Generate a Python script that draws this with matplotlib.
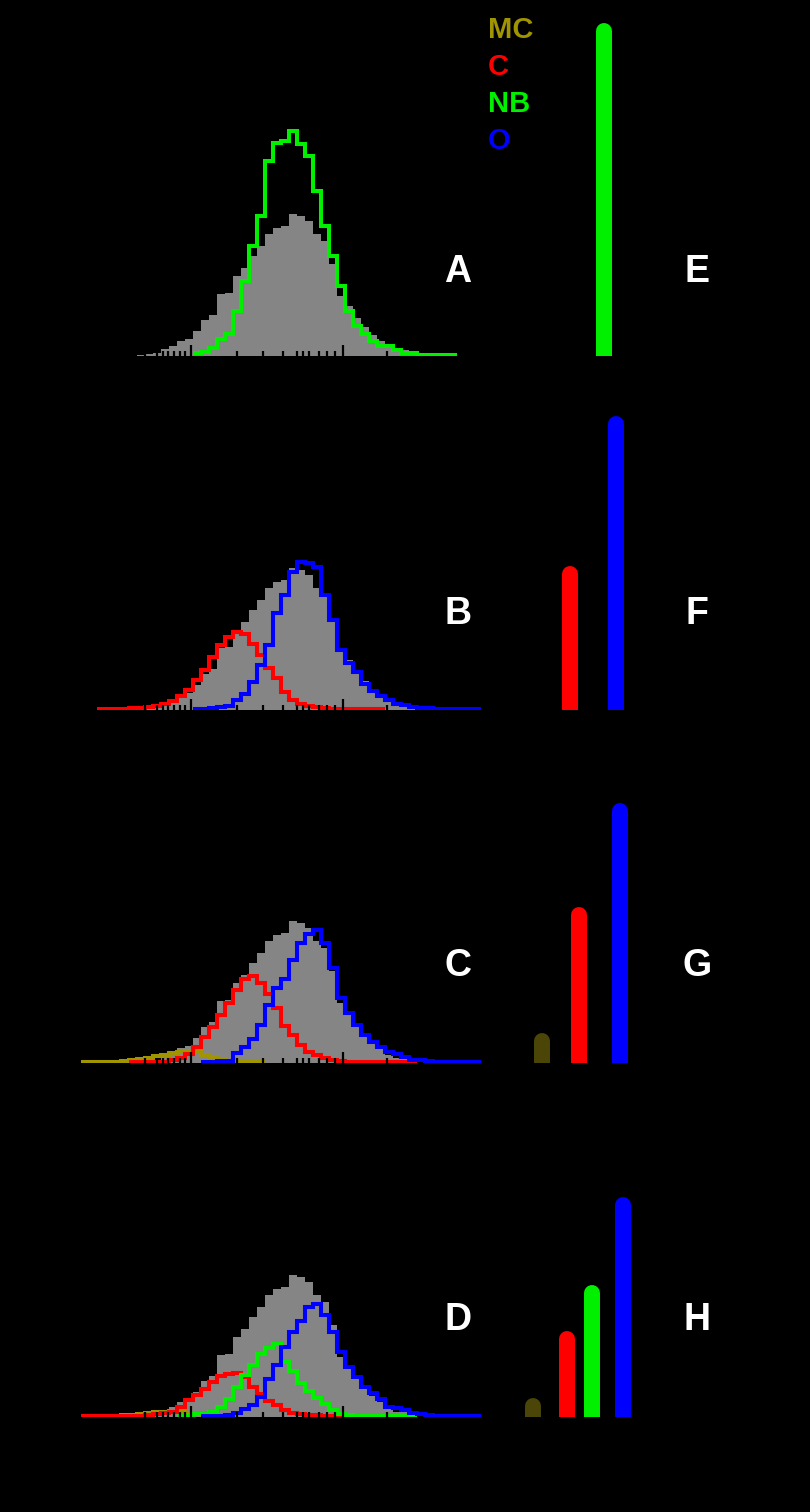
import numpy as np
import matplotlib.pyplot as plt

# 50 histogram bins, edges in bin units
edges = np.arange(51)

# overall distribution (grey, same in all four panels)
gray = [0, 0, 0, 0, 0, 0, 0, 0.7, 2, 2.5,
        6.7, 10, 15, 17, 25, 36, 41, 62, 63, 80,
        88, 100, 110, 122, 128, 130, 142, 140, 135, 122,
        115, 92, 60, 50, 38, 29, 21, 15, 8, 5,
        6, 2, 0, 0, 0, 0, 0, 0, 0, 0]

# panel A
nb_a = [0, 0, 0, 0, 0, 0, 0, 0, 0, 0,
        0, 0, 0, 0, 3, 4, 8, 17, 22, 45,
        75, 110, 140, 195, 213, 215, 225, 212, 200, 165,
        130, 100, 70, 45, 30, 22, 15, 10, 10, 6,
        3, 3, 1, 1, 1, 0.5, 0.3, 0, 0, 0]

# panel B
c_b = [0, 0, 0.4, 0.5, 0.7, 1, 1.2, 1.7, 2.5, 4,
       6, 9, 14, 20, 30, 40, 53, 65, 73, 78,
       76, 66, 55, 42, 32, 18, 10, 6, 4, 2.5,
       1.5, 1, 0.6, 0.5, 0.4, 0.4, 0.3, 0.3, 0, 0,
       0, 0, 0, 0, 0, 0, 0, 0, 0, 0]
o_b = [0, 0, 0, 0, 0, 0, 0, 0, 0, 0,
       0, 0, 0, 0, 0.5, 1, 1.5, 3, 4, 10,
       16, 28, 45, 65, 97, 115, 138, 148, 147, 143,
       115, 90, 60, 47, 38, 26, 19, 14, 10, 6,
       5, 3, 2, 1.5, 0.5, 0.5, 0.4, 0.3, 0.3, 0.2]

# panel C
mc_c = [0.3, 0.3, 0.5, 0.7, 1, 1.5, 2.5, 3.5, 5, 6.5,
        8, 9.5, 11, 12, 11, 8, 5.5, 3.5, 2, 1,
        0.8, 0.5, 0.3, 0, 0, 0, 0, 0, 0, 0,
        0, 0, 0, 0, 0, 0, 0, 0, 0, 0,
        0, 0, 0, 0, 0, 0, 0, 0, 0, 0]
c_c = [0, 0, 0, 0, 0, 0, 0.3, 0.3, 0.4, 0.6,
       1, 2.5, 5, 9, 16, 26, 36, 48, 60, 73,
       84, 87, 80, 69, 55, 37, 28, 18, 11, 8,
       5, 3, 1.5, 0.5, 0.5, 0.5, 0.4, 0.4, 0.3, 0.3,
       0.3, 0.2, 0, 0, 0, 0, 0, 0, 0, 0]
o_c = [0, 0, 0, 0, 0, 0, 0, 0, 0, 0,
       0, 0, 0, 0, 0, 0.3, 0.5, 1.5, 2, 10,
       16, 24, 38, 58, 75, 84, 103, 120, 129, 133,
       120, 95, 65, 50, 38, 28, 21, 16, 11, 9,
       6, 3, 3, 1.5, 0.5, 0.4, 0.4, 0.3, 0.3, 0.2]

# panel D
mc_d = [0.2, 0.3, 0.5, 0.7, 1, 1.5, 2, 2.5, 3.5, 4.5,
        5, 5.5, 5, 4, 3, 2, 1.5, 1, 0.5, 0,
        0, 0, 0, 0, 0, 0, 0, 0, 0, 0,
        0, 0, 0, 0, 0, 0, 0, 0, 0, 0,
        0, 0, 0, 0, 0, 0, 0, 0, 0, 0]
c_d = [0.2, 0.3, 0.3, 0.4, 0.5, 0.6, 0.8, 1, 2, 3,
       3.5, 5, 10, 17, 22, 28, 35, 41, 43, 44,
       40, 30, 23, 16, 12, 7, 4, 3, 2, 1.5,
       1, 0.6, 0.5, 0.3, 0, 0, 0, 0, 0, 0,
       0, 0, 0, 0, 0, 0, 0, 0, 0, 0]
nb_d = [0, 0, 0, 0, 0, 0, 0, 0, 0, 0,
        0, 0, 0.5, 1.5, 2.5, 3, 5, 10, 18, 30,
        42, 52, 63, 69, 73, 55, 46, 34, 26, 19,
        13, 7, 3, 1.2, 1, 1, 1, 1, 0.8, 0.8,
        0.6, 0.3, 0, 0, 0, 0, 0, 0, 0, 0]
o_d = [0, 0, 0, 0, 0, 0, 0, 0, 0, 0,
       0, 0, 0, 0, 0, 0.5, 0.8, 1, 1.5, 4,
       8, 12, 20, 38, 52, 70, 85, 96, 110, 113,
       102, 85, 65, 50, 40, 30, 24, 18, 10, 9,
       7, 4, 3, 1.5, 1, 0.8, 0.6, 0.5, 0.4, 0.3]

# black rug marks along the axis
rug_x = [8.0, 9.5, 10.25, 10.9, 11.6, 12.4, 13.0, 13.75, 19.5, 22.75,
         25.25, 27.0, 27.75, 28.5, 29.75, 30.75, 31.75, 32.75, 38.25]
rug_len = [5, 5, 5, 5, 5, 5, 5, 11, 5, 5,
           5, 5, 5, 5, 5, 5, 5, 11, 5]

# bar panels E-H: position and height
bar_e_x, bar_e_h = [104], [333]
bar_f_x, bar_f_h = [70, 116], [144, 294]
bar_g_x, bar_g_h = [41.5, 79, 119.5], [30, 156, 260]
bar_h_x, bar_h_h = [33, 67, 92, 123], [19, 86, 132, 220]

MC = '#a09400'
MC_BAR = '#4b4608'
C = '#ff0000'
NB = '#00f000'
O = '#0000ff'
GREY = '#858585'

W, H = 810, 1512
fig = plt.figure(figsize=(W / 100, H / 100), dpi=100, facecolor='black')
plt.rcParams['font.family'] = ['Liberation Sans', 'DejaVu Sans']

baselines = [355.5, 709.5, 1062.5, 1416.5]


def px_axes(x0, x1, base, height):
    ax = fig.add_axes([x0 / W, 1 - base / H, (x1 - x0) / W, height / H])
    ax.set_facecolor('black')
    ax.axis('off')
    return ax


def step(ax, vals, col):
    v = np.array(vals, float)
    nz = np.nonzero(v)[0]
    i0, i1 = nz[0], nz[-1] + 1
    ax.stairs(v[i0:i1], edges[i0:i1 + 1], color=col, lw=2.9, baseline=None, zorder=3)


def bars(ax, xs, hs, cols):
    for x, h, c in zip(xs, hs, cols):
        ax.plot([x, x], [-20, h - 8], color=c, lw=11.5, solid_capstyle='round')


hist_series = [
    [(nb_a, NB)],
    [(c_b, C), (o_b, O)],
    [(mc_c, MC), (c_c, C), (o_c, O)],
    [(mc_d, MC), (c_d, C), (nb_d, NB), (o_d, O)],
]
bar_series = [
    (bar_e_x, bar_e_h, [NB]),
    (bar_f_x, bar_f_h, [C, O]),
    (bar_g_x, bar_g_h, [MC_BAR, C, O]),
    (bar_h_x, bar_h_h, [MC_BAR, C, NB, O]),
]

for k, base in enumerate(baselines):
    ax = px_axes(81, 481, base, 250)
    ax.set_xlim(0, 50)
    ax.set_ylim(0, 250)
    ax.stairs(gray, edges, fill=True, color=GREY, zorder=1)
    ax.vlines(rug_x, 0, rug_len, color='black', lw=1.6, zorder=4)
    for vals, col in hist_series[k]:
        step(ax, vals, col)

    bx = px_axes(500, 650, base, 345)
    bx.set_xlim(0, 150)
    bx.set_ylim(0, 345)
    xs, hs, cols = bar_series[k]
    bars(bx, xs, hs, cols)

letters_left = ['A', 'B', 'C', 'D']
letters_right = ['E', 'F', 'G', 'H']
letter_y = [272, 614, 966, 1320]
for a, b, y in zip(letters_left, letters_right, letter_y):
    fig.text(458 / W, 1 - y / H, a, color='white', fontsize=27, fontweight='bold',
             ha='center', va='center')
    fig.text(697 / W, 1 - y / H, b, color='white', fontsize=27, fontweight='bold',
             ha='center', va='center')

legend_names = ['MC', 'C', 'NB', 'O']
legend_cols = [MC, C, NB, O]
for i, (name, col) in enumerate(zip(legend_names, legend_cols)):
    fig.text(488 / W, 1 - (30 + 37 * i) / H, name, color=col, fontsize=21,
             fontweight='bold', ha='left', va='center')

fig.savefig('out.png', dpi=100, facecolor='black')
